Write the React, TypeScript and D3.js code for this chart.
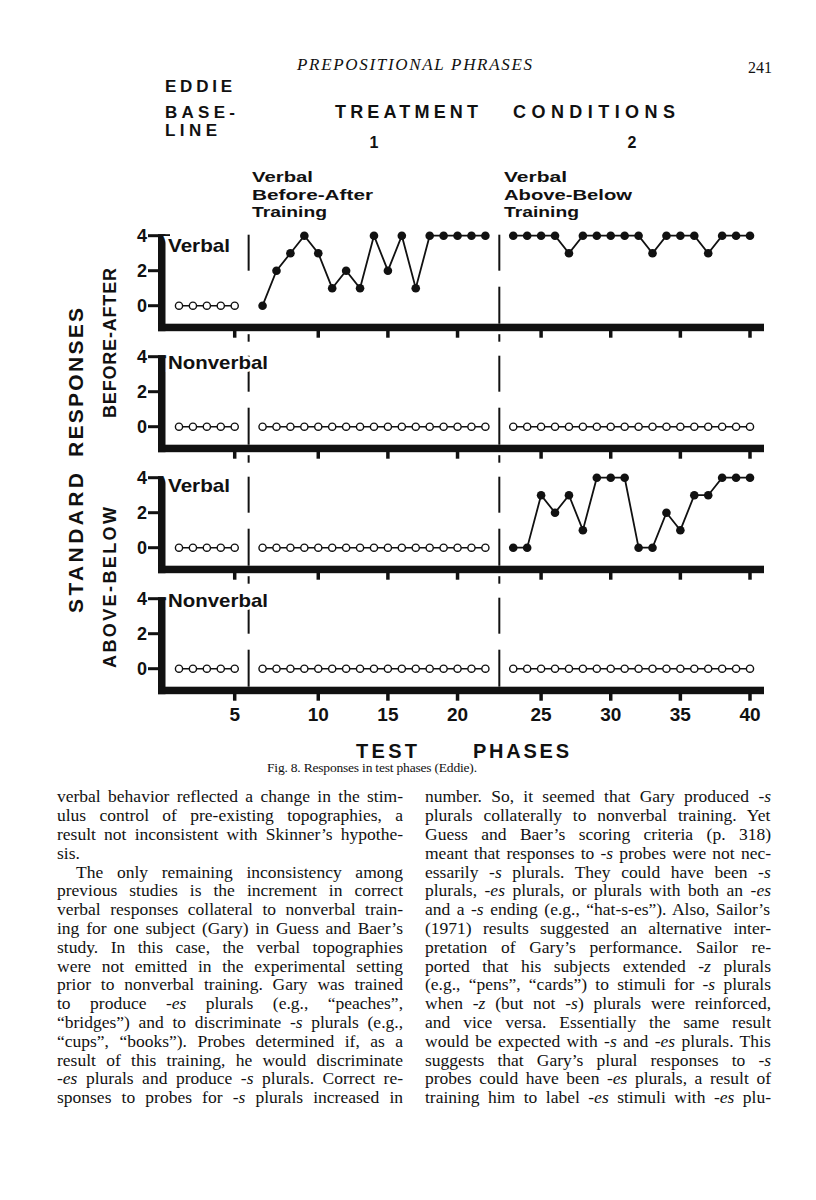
import React from 'react';
import * as d3 from 'd3';

// sessions in each phase
const baselineSessions = [1, 2, 3, 4, 5];
const treatment1Sessions = [6, 7, 8, 9, 10, 11, 12, 13, 14, 15, 16, 17, 18, 19, 20, 21, 22];
const treatment2Sessions = [23, 24, 25, 26, 27, 28, 29, 30, 31, 32, 33, 34, 35, 36, 37, 38, 39, 40];

// before-after, verbal
const baVerbalBaseline = [0, 0, 0, 0, 0];
const baVerbalT1 = [0, 2, 3, 4, 3, 1, 2, 1, 4, 2, 4, 1, 4, 4, 4, 4, 4];
const baVerbalT2 = [4, 4, 4, 4, 3, 4, 4, 4, 4, 4, 3, 4, 4, 4, 3, 4, 4, 4];
// before-after, nonverbal
const baNonverbalBaseline = [0, 0, 0, 0, 0];
const baNonverbalT1 = [0, 0, 0, 0, 0, 0, 0, 0, 0, 0, 0, 0, 0, 0, 0, 0, 0];
const baNonverbalT2 = [0, 0, 0, 0, 0, 0, 0, 0, 0, 0, 0, 0, 0, 0, 0, 0, 0, 0];
// above-below, verbal
const abVerbalBaseline = [0, 0, 0, 0, 0];
const abVerbalT1 = [0, 0, 0, 0, 0, 0, 0, 0, 0, 0, 0, 0, 0, 0, 0, 0, 0];
const abVerbalT2 = [0, 0, 3, 2, 3, 1, 4, 4, 4, 0, 0, 2, 1, 3, 3, 4, 4, 4];
// above-below, nonverbal
const abNonverbalBaseline = [0, 0, 0, 0, 0];
const abNonverbalT1 = [0, 0, 0, 0, 0, 0, 0, 0, 0, 0, 0, 0, 0, 0, 0, 0, 0];
const abNonverbalT2 = [0, 0, 0, 0, 0, 0, 0, 0, 0, 0, 0, 0, 0, 0, 0, 0, 0, 0];

const xTicks = [5, 10, 15, 20, 25, 30, 35, 40];
const yTicks = [0, 2, 4];
const panelLabels = ['Verbal', 'Nonverbal', 'Verbal', 'Nonverbal'];
const phase1Title = ['Verbal', 'Before-After', 'Training'];
const phase2Title = ['Verbal', 'Above-Below', 'Training'];

const leftColumn = [
  'verbal behavior reflected a change in the stim-',
  'ulus control of pre-existing topographies, a',
  'result not inconsistent with Skinner\u2019s hypothe-',
  'sis.',
  'The only remaining inconsistency among',
  'previous studies is the increment in correct',
  'verbal responses collateral to nonverbal train-',
  'ing for one subject (Gary) in Guess and Baer\u2019s',
  'study. In this case, the verbal topographies',
  'were not emitted in the experimental setting',
  'prior to nonverbal training. Gary was trained',
  'to produce _-es_ plurals (e.g., \u201Cpeaches\u201D,',
  '\u201Cbridges\u201D) and to discriminate _-s_ plurals (e.g.,',
  '\u201Ccups\u201D, \u201Cbooks\u201D). Probes determined if, as a',
  'result of this training, he would discriminate',
  '_-es_ plurals and produce _-s_ plurals. Correct re-',
  'sponses to probes for _-s_ plurals increased in',
];
const rightColumn = [
  'number. So, it seemed that Gary produced _-s_',
  'plurals collaterally to nonverbal training. Yet',
  'Guess and Baer\u2019s scoring criteria (p. 318)',
  'meant that responses to _-s_ probes were not nec-',
  'essarily _-s_ plurals. They could have been _-s_',
  'plurals, _-es_ plurals, or plurals with both an _-es_',
  'and a _-s_ ending (e.g., \u201Chat-s-es\u201D). Also, Sailor\u2019s',
  '(1971) results suggested an alternative inter-',
  'pretation of Gary\u2019s performance. Sailor re-',
  'ported that his subjects extended _-z_ plurals',
  '(e.g., \u201Cpens\u201D, \u201Ccards\u201D) to stimuli for _-s_ plurals',
  'when _-z_ (but not _-s_) plurals were reinforced,',
  'and vice versa. Essentially the same result',
  'would be expected with _-s_ and _-es_ plurals. This',
  'suggests that Gary\u2019s plural responses to _-s_',
  'probes could have been _-es_ plurals, a result of',
  'training him to label _-es_ stimuli with _-es_ plu-',
];

const SANS = '"Liberation Sans", Arial, sans-serif';
const SERIF = '"Liberation Serif", "Times New Roman", serif';
const BODY_SIZE = 17.5;

const panels = [
  [
    { sessions: baselineSessions, values: baVerbalBaseline, filled: false },
    { sessions: treatment1Sessions, values: baVerbalT1, filled: true },
    { sessions: treatment2Sessions, values: baVerbalT2, filled: true },
  ],
  [
    { sessions: baselineSessions, values: baNonverbalBaseline, filled: false },
    { sessions: treatment1Sessions, values: baNonverbalT1, filled: false },
    { sessions: treatment2Sessions, values: baNonverbalT2, filled: false },
  ],
  [
    { sessions: baselineSessions, values: abVerbalBaseline, filled: false },
    { sessions: treatment1Sessions, values: abVerbalT1, filled: false },
    { sessions: treatment2Sessions, values: abVerbalT2, filled: true },
  ],
  [
    { sessions: baselineSessions, values: abNonverbalBaseline, filled: false },
    { sessions: treatment1Sessions, values: abNonverbalT1, filled: false },
    { sessions: treatment2Sessions, values: abNonverbalT2, filled: false },
  ],
];

// a blank slot is left between phases on the x axis
const slot = (s: number) => s + (s > 5 ? 1 : 0) + (s > 22 ? 1 : 0);
const x = d3.scaleLinear().domain([1, 42]).range([179, 750]);
const xs = (s: number) => x(slot(s));
const phaseBreaks = [(slot(5) + slot(6)) / 2, (slot(22) + slot(23)) / 2];

const panelTop = 235.7;
const panelStep = 121;
const labelOffset = [16, 12, 14, 8];

let ctx: CanvasRenderingContext2D | null = null;
const measure = (parts: string[]) => {
  if (!ctx) ctx = document.createElement('canvas').getContext('2d');
  if (!ctx) return 0;
  let w = 0;
  parts.forEach((p, i) => {
    ctx!.font = `${i % 2 ? 'italic ' : ''}${BODY_SIZE}px "Liberation Serif"`;
    w += ctx!.measureText(p).width;
  });
  return w;
};

// justify a line by widening the word gaps
const Justified = ({ text, xPos, y, width, justify }: any) => {
  const parts = text.split('_');
  const spaces = (text.match(/ /g) || []).length;
  let ws = 0;
  if (justify && spaces > 0) ws = (width - measure(parts)) / spaces;
  return (
    <text x={xPos} y={y} fontFamily={SERIF} fontSize={BODY_SIZE} fill="#111"
      wordSpacing={ws > 0 ? ws : 0} textLength={justify && ws < 0 ? width : undefined} lengthAdjust="spacingAndGlyphs">
      {parts.map((p: string, i: number) => (
        <tspan key={i} fontStyle={i % 2 ? 'italic' : 'normal'}>{p}</tspan>
      ))}
    </text>
  );
};

const Panel = ({ idx, series }: any) => {
  const y = d3.scaleLinear().domain([0, 4]).range([panelTop + panelStep * idx + 70, panelTop + panelStep * idx]);
  const axisY = y(0) + 18;
  const line = d3.line<[number, number]>().x(d => xs(d[0])).y(d => y(d[1]));
  const halo = { stroke: '#fff', strokeWidth: 6, paintOrder: 'stroke' as any };
  return (
    <g>
      {/* dashed phase lines */}
      {phaseBreaks.map((b, k) => {
        const px = x(b);
        const segs: [number, number][] = [[y(4) - 1, y(2)]];
        if (!(idx === 0 && k === 0)) segs.push([y(0) - 19, axisY]);
        if (idx < 3) segs.push([axisY + 10.5, axisY + 18]);
        return segs.map((s, j) => (
          <line key={`${k}-${j}`} x1={px} x2={px} y1={s[0]} y2={s[1]} stroke="#111" strokeWidth={2} />
        ));
      })}
      {/* axes */}
      <rect x={158} y={y(4) - 1.5} width={7.5} height={axisY + 7.5 - y(4) + 1.5} fill="#111" />
      <rect x={158} y={axisY} width={606} height={7.5} fill="#111" />
      {yTicks.map(t => (
        <g key={t}>
          <line x1={148} x2={t === 4 ? 170 : 160} y1={y(t)} y2={y(t)} stroke="#111" strokeWidth={3} />
          <text x={142} y={y(t) + 6} textAnchor="middle" fontFamily={SANS} fontWeight="bold" fontSize={18} fill="#111">{t}</text>
        </g>
      ))}
      {xTicks.map(t => (
        <line key={t} x1={xs(t)} x2={xs(t)} y1={axisY + 7} y2={axisY + 14} stroke="#111" strokeWidth={3.5} />
      ))}
      {idx === 3 && xTicks.map(t => (
        <text key={t} x={xs(t)} y={721} textAnchor="middle" fontFamily={SANS} fontWeight="bold" fontSize={19} fill="#111">{t}</text>
      ))}
      <text x={168} y={y(4) + labelOffset[idx]} fontFamily={SANS} fontWeight="bold" fontSize={19}
        textLength={panelLabels[idx] === 'Verbal' ? 62 : 100} lengthAdjust="spacingAndGlyphs" fill="#111" style={halo}>
        {panelLabels[idx]}
      </text>
      {/* data */}
      {series.map((s: any, k: number) => {
        const pts = s.sessions.map((d: number, i: number) => [d, s.values[i]] as [number, number]);
        return (
          <g key={k}>
            <path d={line(pts) || ''} fill="none" stroke="#111" strokeWidth={s.filled ? 1.8 : 1.4} />
            {pts.map((p: [number, number], i: number) => (
              <circle key={i} cx={xs(p[0])} cy={y(p[1])} r={s.filled ? 4.3 : 3.6}
                fill={s.filled ? '#111' : '#fff'} stroke="#111" strokeWidth={s.filled ? 0 : 1.4} />
            ))}
          </g>
        );
      })}
    </g>
  );
};

const Rot = ({ cx, cy, len, size, children }: any) => (
  <text transform={`translate(${cx},${cy}) rotate(-90)`} textAnchor="middle" fontFamily={SANS}
    fontWeight="bold" fontSize={size} textLength={len} lengthAdjust="spacing" fill="#111">{children}</text>
);

// three-line phase title
const PhaseTitle = ({ x0, lines, widths }: any) => (
  <g>
    {lines.map((l: string, i: number) => (
      <text key={i} x={x0} y={182 + 17.6 * i} fontFamily={SANS} fontWeight="bold" fontSize={15.5} fill="#111"
        textLength={widths[i]} lengthAdjust="spacingAndGlyphs">{l}</text>
    ))}
  </g>
);

const App = () => {
  const head = { fontFamily: SANS, fontWeight: 'bold', fill: '#111' } as any;
  return (
    <svg width={816} height={1200} style={{ position: 'absolute', left: 0, top: 0, background: '#fff' }}>
      <rect width={816} height={1200} fill="#fff" />
      <text x={297} y={70} fontFamily={SERIF} fontStyle="italic" fontSize={17} textLength={235} lengthAdjust="spacing" fill="#111">PREPOSITIONAL PHRASES</text>
      <text x={772} y={72.5} textAnchor="end" fontFamily={SERIF} fontSize={16} fill="#111">241</text>

      <text x={165} y={92} {...head} fontSize={17} textLength={67} lengthAdjust="spacing">EDDIE</text>
      <text x={165} y={118} {...head} fontSize={17} textLength={70} lengthAdjust="spacing">BASE-</text>
      <text x={165} y={136} {...head} fontSize={17} textLength={52} lengthAdjust="spacing">LINE</text>
      <text x={335} y={118} {...head} fontSize={18} textLength={143} lengthAdjust="spacing">TREATMENT</text>
      <text x={513} y={118} {...head} fontSize={18} textLength={162} lengthAdjust="spacing">CONDITIONS</text>
      <text x={374} y={148} {...head} fontSize={16} textAnchor="middle">1</text>
      <text x={632} y={148} {...head} fontSize={16} textAnchor="middle">2</text>

      <PhaseTitle x0={252} lines={phase1Title} widths={[61, 121, 75]} />
      <PhaseTitle x0={504} lines={phase2Title} widths={[63, 128, 75]} />

      <Rot cx={82.5} cy={382.5} len={149} size={21}>RESPONSES</Rot>
      <Rot cx={82.5} cy={543} len={140} size={21}>STANDARD</Rot>
      <Rot cx={115.5} cy={343} len={150} size={18}>BEFORE-AFTER</Rot>
      <Rot cx={115.5} cy={587.5} len={161} size={18}>ABOVE-BELOW</Rot>

      {panels.map((s, i) => <Panel key={i} idx={i} series={s} />)}

      <text x={356} y={758} {...head} fontSize={20} textLength={61} lengthAdjust="spacing">TEST</text>
      <text x={473} y={758} {...head} fontSize={20} textLength={96} lengthAdjust="spacing">PHASES</text>
      <text x={267} y={772} fontFamily={SERIF} fontSize={13.5} textLength={210} lengthAdjust="spacing" fill="#111">Fig. 8. Responses in test phases (Eddie).</text>

      {leftColumn.map((t, i) => {
        const indent = i === 4 ? 19 : 0;
        return <Justified key={i} text={t} xPos={57 + indent} y={802.3 + 18.8 * i} width={346 - indent} justify={t !== 'sis.'} />;
      })}
      {rightColumn.map((t, i) => (
        <Justified key={i} text={t} xPos={425} y={802.3 + 18.8 * i} width={346} justify={true} />
      ))}
    </svg>
  );
};

export default App;
